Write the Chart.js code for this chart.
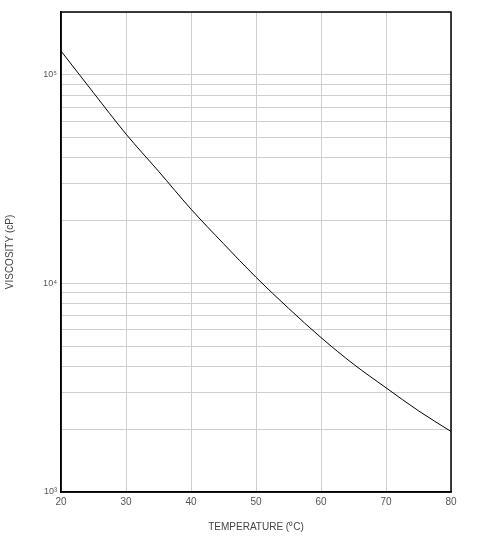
<!DOCTYPE html>
<html><head><meta charset="utf-8">
<script src="https://cdn.jsdelivr.net/npm/chart.js@4/dist/chart.umd.min.js"></script>
<style>html,body{margin:0;padding:0;background:#fff}#w{width:491px;height:557px}</style>
</head><body><div id="w"><canvas id="c"></canvas></div>
<script>
const temps = [20, 25, 30, 35, 40, 45, 50, 55, 60, 65, 70, 75, 80];
const viscosity = [130000, 82000, 52000, 34500, 22700, 15500, 10700, 7600, 5500, 4100, 3160, 2450, 1950];
const decadeLabels = {1000: '10³', 10000: '10⁴', 100000: '10⁵'};
const xTicks = [20, 30, 40, 50, 60, 70, 80];

const frame = {id:'frame', afterDraw(ch){const a=ch.chartArea,c=ch.ctx;c.save();c.strokeStyle='#000';c.lineWidth=1.5;c.strokeRect(a.left,a.top,a.right-a.left,a.bottom-a.top);c.restore();}};
new Chart(document.getElementById('c'), {
  type:'line',
  data:{datasets:[{data:temps.map((t,i)=>({x:t,y:viscosity[i]})),borderColor:'#000',borderWidth:1,pointRadius:0,cubicInterpolationMode:'monotone'}]},
  options:{responsive:true,maintainAspectRatio:false,animation:false,
    layout:{padding:{top:12,right:40,bottom:20,left:0}},
    plugins:{legend:{display:false},tooltip:{enabled:false}},
    scales:{
      x:{type:'linear',min:20,max:80,
        afterBuildTicks:s=>{s.ticks=xTicks.map(v=>({value:v}));},
        afterFit:s=>{s.height=45;},
        grid:{color:'#cfcfcf',drawTicks:false},border:{color:'#000',width:1.5},
        ticks:{color:'#555',font:{size:10,family:'Arial'},padding:4,maxRotation:0},
        title:{display:true,text:'TEMPERATURE (⁰C)',color:'#444',font:{size:10,family:'Arial'},padding:{top:8}}},
      y:{type:'logarithmic',min:1000,max:200000,
        afterBuildTicks:s=>{const t=[];for(const d of [1000,10000]){for(let k=1;k<10;k++)t.push({value:d*k});}t.push({value:100000});t.push({value:200000});s.ticks=t;},
        afterFit:s=>{s.width=61;},
        grid:{color:'#cfcfcf',drawTicks:false},border:{color:'#000',width:1.5},
        ticks:{autoSkip:false,color:'#555',font:{size:9,family:'Arial'},padding:4,callback:v=>decadeLabels[v]||''},
        title:{display:true,text:'VISCOSITY (cP)',color:'#444',font:{size:10,family:'Arial'},padding:{bottom:10}}}
    }},
  plugins:[frame]
});
</script></body></html>
